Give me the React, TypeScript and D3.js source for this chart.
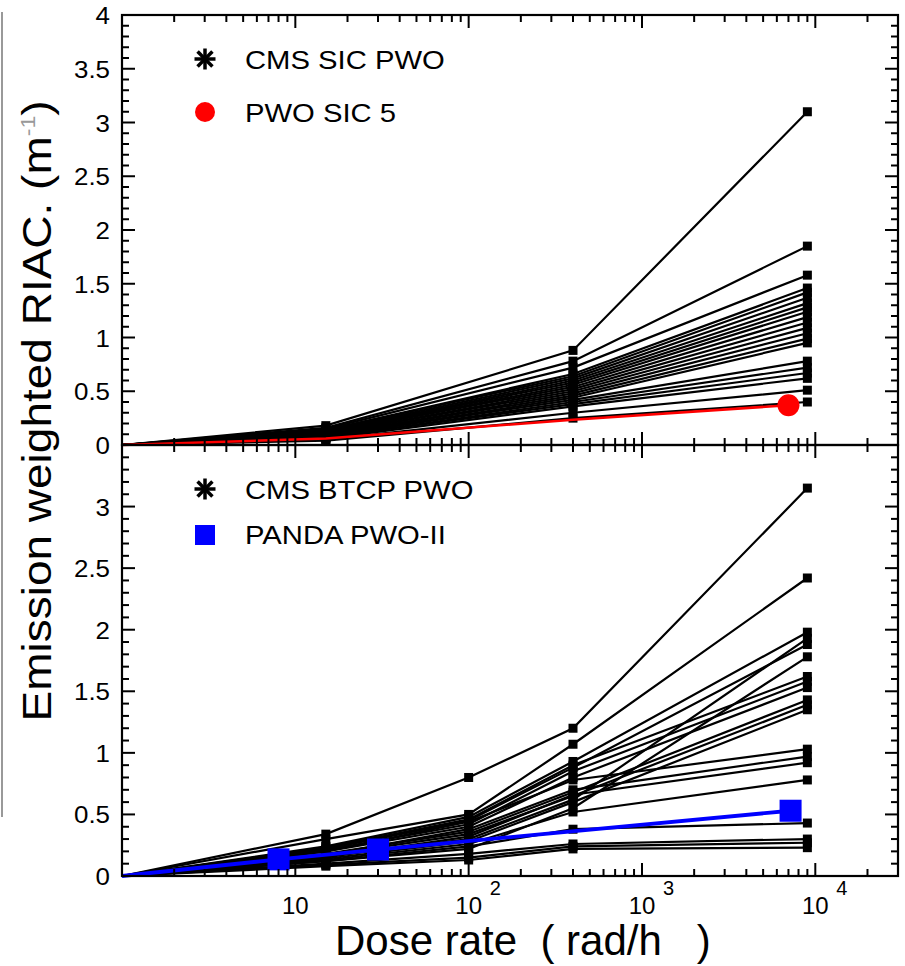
import React from "react";
import * as d3 from "d3";

// ---------- data ----------
const doseTop = [1, 15, 400, 9000];
const cmsSicPwo: number[][] = [
  [0, 0.18, 0.88, 3.1],
  [0, 0.16, 0.78, 1.85],
  [0, 0.15, 0.72, 1.58],
  [0, 0.14, 0.66, 1.46],
  [0, 0.14, 0.64, 1.42],
  [0, 0.13, 0.62, 1.37],
  [0, 0.12, 0.6, 1.32],
  [0, 0.12, 0.58, 1.28],
  [0, 0.11, 0.56, 1.24],
  [0, 0.11, 0.54, 1.19],
  [0, 0.1, 0.52, 1.14],
  [0, 0.1, 0.5, 1.09],
  [0, 0.09, 0.48, 1.04],
  [0, 0.09, 0.46, 0.99],
  [0, 0.08, 0.44, 0.95],
  [0, 0.08, 0.42, 0.78],
  [0, 0.07, 0.4, 0.72],
  [0, 0.07, 0.38, 0.67],
  [0, 0.06, 0.36, 0.62],
  [0, 0.05, 0.3, 0.51],
  [0, 0.04, 0.25, 0.4],
];
const pwoSic5Dose = [1, 15, 400, 7000];
const pwoSic5 = [0, 0.06, 0.235, 0.37];

const doseBottom = [1, 15, 100, 400, 9000];
const cmsBtcpPwo: number[][] = [
  [0, 0.34, 0.8, 1.2, 3.15],
  [0, 0.3, 0.5, 1.07, 2.42],
  [0, 0.24, 0.48, 0.93, 1.98],
  [0, 0.16, 0.3, 0.62, 1.93],
  [0, 0.22, 0.45, 0.88, 1.88],
  [0, 0.12, 0.22, 0.55, 1.78],
  [0, 0.23, 0.46, 0.9, 1.62],
  [0, 0.21, 0.42, 0.85, 1.58],
  [0, 0.2, 0.4, 0.8, 1.53],
  [0, 0.18, 0.36, 0.68, 1.43],
  [0, 0.17, 0.34, 0.65, 1.39],
  [0, 0.14, 0.28, 0.6, 1.35],
  [0, 0.2, 0.44, 0.78, 1.03],
  [0, 0.17, 0.38, 0.7, 0.97],
  [0, 0.15, 0.32, 0.66, 0.92],
  [0, 0.13, 0.26, 0.52, 0.78],
  [0, 0.12, 0.24, 0.38, 0.43],
  [0, 0.1, 0.18, 0.26, 0.3],
  [0, 0.09, 0.15, 0.24, 0.27],
  [0, 0.08, 0.13, 0.22, 0.23],
];
const pandaDose = [1, 8, 30, 7200];
const pandaPwo2 = [0, 0.135, 0.215, 0.53];

const topYTicks = [0, 0.5, 1, 1.5, 2, 2.5, 3, 3.5, 4];
const bottomYTicks = [0, 0.5, 1, 1.5, 2, 2.5, 3];
const xMajorTicks = [10, 100, 1000, 10000];
const xTickLabels = ["10", "10", "10", "10"];
const xTickSup = ["", "2", "3", "4"];

// ---------- geometry ----------
const W = 905;
const H = 966;
const L = 122;
const R = 898;
const T1 = 15;
const MID = 445;
const B2 = 876;

const x = d3.scaleLog().domain([1, 30000]).range([L, R]);
const yTop = d3.scaleLinear().domain([0, 4]).range([MID, T1]);
const yBot = d3.scaleLinear().domain([0, 3.5]).range([B2, MID]);

const FONT = "'Liberation Sans', Arial, Helvetica, sans-serif";

function xMinorTicks(): number[] {
  const out: number[] = [];
  for (let e = 0; e <= 4; e++) {
    for (let m = 2; m <= 9; m++) {
      const v = m * Math.pow(10, e);
      if (v < 30000) out.push(v);
    }
  }
  return out;
}

function yMinor(max: number): number[] {
  const out: number[] = [];
  const n = Math.round(max * 10);
  for (let i = 0; i <= n; i++) {
    if (i % 5 !== 0) out.push(i / 10);
  }
  return out;
}

const Asterisk = ({ cx, cy, r, sw }: { cx: number; cy: number; r: number; sw: number }) => (
  <g stroke="#000" strokeWidth={sw} strokeLinecap="butt">
    {[0, 45, 90, 135].map((a) => {
      const rad = (a * Math.PI) / 180;
      return (
        <line
          key={a}
          x1={cx - r * Math.cos(rad)}
          y1={cy - r * Math.sin(rad)}
          x2={cx + r * Math.cos(rad)}
          y2={cy + r * Math.sin(rad)}
        />
      );
    })}
  </g>
);

function Panel({
  y,
  top,
  bottom,
  yMax,
  yTicks,
}: {
  y: d3.ScaleLinear<number, number>;
  top: number;
  bottom: number;
  yMax: number;
  yTicks: number[];
}) {
  const minors = xMinorTicks();
  const yMin = yMinor(yMax);
  const MJ = 13;
  const MN = 7;
  return (
    <g>
      {xMajorTicks.map((t) => (
        <g key={"xm" + t} stroke="#000" strokeWidth={2}>
          <line x1={x(t)} x2={x(t)} y1={top} y2={top + MJ} />
          <line x1={x(t)} x2={x(t)} y1={bottom} y2={bottom - MJ} />
        </g>
      ))}
      {minors.map((t) => (
        <g key={"xn" + t} stroke="#000" strokeWidth={2}>
          <line x1={x(t)} x2={x(t)} y1={top} y2={top + MN} />
          <line x1={x(t)} x2={x(t)} y1={bottom} y2={bottom - MN} />
        </g>
      ))}
      {yTicks.concat(yMax === 3.5 ? [3.5] : []).map((t) => (
        <g key={"ym" + t} stroke="#000" strokeWidth={2}>
          <line x1={L} x2={L + MJ} y1={y(t)} y2={y(t)} />
          <line x1={R} x2={R - MJ} y1={y(t)} y2={y(t)} />
        </g>
      ))}
      {yMin.map((t) => (
        <g key={"yn" + t} stroke="#000" strokeWidth={2}>
          <line x1={L} x2={L + MN} y1={y(t)} y2={y(t)} />
          <line x1={R} x2={R - MN} y1={y(t)} y2={y(t)} />
        </g>
      ))}
      {yTicks.map((t) => (
        <text
          key={"yl" + t}
          transform={`translate(110,${y(t) + 9}) scale(1.08,1)`}
          textAnchor="end"
          fontSize={24}
          fontFamily={FONT}
          fill="#000"
        >
          {String(t)}
        </text>
      ))}
    </g>
  );
}

export default function App() {
  const lineTop = d3
    .line<number>()
    .x((_, i) => x(doseTop[i]))
    .y((d) => yTop(d));
  const lineBot = d3
    .line<number>()
    .x((_, i) => x(doseBottom[i]))
    .y((d) => yBot(d));
  const redLine = d3
    .line<number>()
    .x((_, i) => x(pwoSic5Dose[i]))
    .y((d) => yTop(d));
  const blueLine = d3
    .line<number>()
    .x((_, i) => x(pandaDose[i]))
    .y((d) => yBot(d));
  const MS = 9;

  return (
    <svg width={W} height={H} style={{ display: "block", position: "absolute", left: 0, top: 0 }}>
      <rect x={0} y={0} width={W} height={H} fill="#fff" />
      <line x1={2} x2={2} y1={12} y2={817} stroke="#777" strokeWidth={1.5} />

      {/* top panel data */}
      {cmsSicPwo.map((s, k) => (
        <path key={"t" + k} d={lineTop(s) || ""} fill="none" stroke="#000" strokeWidth={2.2} />
      ))}
      {cmsSicPwo.map((s, k) =>
        s.map((v, i) =>
          i === 0 ? null : (
            <rect
              key={"tm" + k + "_" + i}
              x={x(doseTop[i]) - MS / 2}
              y={yTop(v) - MS / 2}
              width={MS}
              height={MS}
              fill="#000"
            />
          )
        )
      )}
      <path d={redLine(pwoSic5) || ""} fill="none" stroke="#ff0000" strokeWidth={2.6} />
      <circle
        cx={x(pwoSic5Dose[pwoSic5Dose.length - 1])}
        cy={yTop(pwoSic5[pwoSic5.length - 1])}
        r={11}
        fill="#ff0000"
      />

      {/* bottom panel data */}
      {cmsBtcpPwo.map((s, k) => (
        <path key={"b" + k} d={lineBot(s) || ""} fill="none" stroke="#000" strokeWidth={2.2} />
      ))}
      {cmsBtcpPwo.map((s, k) =>
        s.map((v, i) =>
          i === 0 ? null : (
            <rect
              key={"bm" + k + "_" + i}
              x={x(doseBottom[i]) - MS / 2}
              y={yBot(v) - MS / 2}
              width={MS}
              height={MS}
              fill="#000"
            />
          )
        )
      )}
      <path d={blueLine(pandaPwo2) || ""} fill="none" stroke="#0000ff" strokeWidth={3.8} />
      {pandaPwo2.map((v, i) =>
        i === 0 ? null : (
          <rect
            key={"pm" + i}
            x={x(pandaDose[i]) - 11}
            y={yBot(v) - 11}
            width={22}
            height={22}
            fill="#0000ff"
          />
        )
      )}

      {/* frames */}
      <rect x={L} y={T1} width={R - L} height={MID - T1} fill="none" stroke="#000" strokeWidth={2.2} />
      <rect x={L} y={MID} width={R - L} height={B2 - MID} fill="none" stroke="#000" strokeWidth={2.2} />

      <Panel y={yTop} top={T1} bottom={MID} yMax={4} yTicks={topYTicks} />
      <Panel y={yBot} top={MID} bottom={B2} yMax={3.5} yTicks={bottomYTicks} />

      {/* x tick labels */}
      {xMajorTicks.map((t, i) => (
        <g key={"xl" + t}>
          <text x={x(t)} y={914} textAnchor="middle" fontSize={24} fontFamily={FONT}>
            {xTickLabels[i]}
          </text>
          {xTickSup[i] && (
            <text x={x(t) + 21} y={895} textAnchor="start" fontSize={20} fontFamily={FONT}>
              {xTickSup[i]}
            </text>
          )}
        </g>
      ))}

      {/* axis titles */}
      <text
        x={335}
        y={955}
        textAnchor="start"
        fontSize={42}
        fontFamily={FONT}
        style={{ whiteSpace: "pre" }}
      >
        {"Dose rate  ( rad/h   )"}
      </text>
      <text
        transform={`translate(51,411) rotate(-90) scale(1.15,1)`}
        textAnchor="middle"
        fontSize={40}
        fontFamily={FONT}
      >
        {"Emission weighted RIAC. (m"}
        <tspan fontSize={20} dy={-16} fill="#999">
          {"-1"}
        </tspan>
        <tspan dy={16}>{")"}</tspan>
      </text>

      {/* legends */}
      <Asterisk cx={205} cy={59} r={10.5} sw={3.5} />
      <text transform="translate(245,69) scale(1.17,1)" fontSize={25} fontFamily={FONT}>
        CMS SIC PWO
      </text>
      <circle cx={205} cy={112} r={10} fill="#ff0000" />
      <text transform="translate(245,122) scale(1.17,1)" fontSize={25} fontFamily={FONT}>
        PWO SIC 5
      </text>

      <Asterisk cx={205} cy={489} r={10.5} sw={3.5} />
      <text transform="translate(245,499) scale(1.17,1)" fontSize={25} fontFamily={FONT}>
        CMS BTCP PWO
      </text>
      <rect x={195} y={525} width={20} height={20} fill="#0000ff" />
      <text transform="translate(245,544) scale(1.17,1)" fontSize={25} fontFamily={FONT}>
        PANDA PWO-II
      </text>
    </svg>
  );
}
